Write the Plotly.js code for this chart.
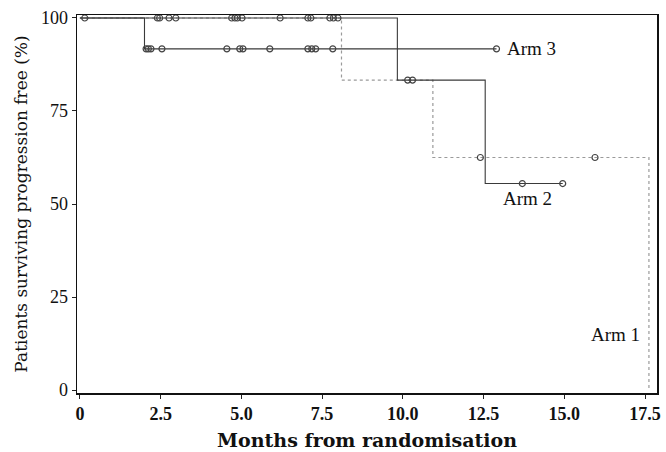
<!DOCTYPE html>
<html>
<head>
<meta charset="utf-8">
<script src="https://cdn.plot.ly/plotly-3.0.1.min.js"></script>
<style>html,body{margin:0;padding:0;background:#fff}#chart{width:666px;height:452px}</style>
</head>
<body>
<div id="chart"></div>
<script>
// Kaplan-Meier steps (months, % progression free)
var arm1Times = [0, 8.1, 10.93, 17.62];
var arm1Surv  = [100, 83.3, 62.5, 0];
var arm2Times = [0, 9.83, 12.55, 14.95];
var arm2Surv  = [100, 83.3, 55.5, 55.5];
var arm3Times = [0, 2.0, 12.9];
var arm3Surv  = [100, 91.7, 91.7];

// Censoring times
var arm1Censor = [0.15, 2.4, 2.47, 2.76, 2.97, 12.4, 15.95];
var arm2Censor = [4.7, 4.8, 4.88, 5.02, 6.2, 7.06, 7.15, 7.74, 7.85, 7.99, 10.15, 10.3, 13.7, 14.95];
var arm3Censor = [2.05, 2.12, 2.2, 2.54, 4.55, 4.95, 5.05, 5.88, 7.06, 7.18, 7.3, 7.83, 12.9];

var xTicks = [0, 2.5, 5, 7.5, 10, 12.5, 15, 17.5];
var xTickText = ['0', '2.5', '5.0', '7.5', '10.0', '12.5', '15.0', '17.5'];
var yTicks = [0, 25, 50, 75, 100];

function survAt(times, surv, t) {
  var s = surv[0];
  for (var i = 0; i < times.length; i++) { if (times[i] <= t) s = surv[i]; }
  return s;
}
function censorY(times, surv, cens) { return cens.map(function (t) { return survAt(times, surv, t); }); }

var serif = 'Liberation Serif, Times New Roman, serif';
var wide = 'DejaVu Serif, serif';

var traces = [
  {x: arm1Times, y: arm1Surv, mode: 'lines', line: {shape: 'hv', color: '#9a9a9a', width: 1.2, dash: 'dot'}, hoverinfo: 'skip'},
  {x: arm2Times, y: arm2Surv, mode: 'lines', line: {shape: 'hv', color: '#3a3a3a', width: 1.1}, hoverinfo: 'skip'},
  {x: arm3Times, y: arm3Surv, mode: 'lines', line: {shape: 'hv', color: '#3a3a3a', width: 1.1}, hoverinfo: 'skip'},
  {x: arm1Censor, y: censorY(arm1Times, arm1Surv, arm1Censor), mode: 'markers', marker: {symbol: 'circle-open', size: 6, color: '#444', line: {width: 1.2}}},
  {x: arm2Censor, y: censorY(arm2Times, arm2Surv, arm2Censor), mode: 'markers', marker: {symbol: 'circle-open', size: 6, color: '#444', line: {width: 1.2}}},
  {x: arm3Censor, y: censorY(arm3Times, arm3Surv, arm3Censor), mode: 'markers', marker: {symbol: 'circle-open', size: 6, color: '#444', line: {width: 1.2}}}
];

var layout = {
  width: 666, height: 452,
  margin: {l: 77, r: 9, t: 15, b: 59},
  paper_bgcolor: '#fff', plot_bgcolor: '#fff',
  showlegend: false,
  font: {family: serif, color: '#111'},
  xaxis: {
    range: [-0.09, 17.87], tickvals: xTicks, ticktext: xTickText,
    ticks: 'outside', ticklen: 4, tickcolor: '#222', tickwidth: 1,
    showgrid: false, zeroline: false, showline: true, linecolor: '#111', linewidth: 1.5, mirror: true,
    tickfont: {family: serif, size: 18, color: '#111', weight: 'bold'},
    title: {text: 'Months from randomisation', font: {family: wide, size: 19, color: '#111', weight: 'bold'}, standoff: 10}
  },
  yaxis: {
    range: [-0.8, 100.8], tickvals: yTicks,
    ticks: 'outside', ticklen: 4, tickcolor: '#222', tickwidth: 1,
    showgrid: false, zeroline: false, showline: true, linecolor: '#111', linewidth: 1.5, mirror: true,
    tickfont: {family: serif, size: 18, color: '#111'},
    title: {text: 'Patients surviving progression free (%)', font: {family: wide, size: 17, color: '#111'}, standoff: 9}
  },
  annotations: [
    {x: 13.98, y: 91.7, text: 'Arm 3', showarrow: false, xanchor: 'center', font: {family: serif, size: 19, color: '#111'}},
    {x: 13.85, y: 51.6, text: 'Arm 2', showarrow: false, xanchor: 'center', font: {family: serif, size: 19, color: '#111'}},
    {x: 16.6, y: 15, text: 'Arm 1', showarrow: false, xanchor: 'center', font: {family: serif, size: 19, color: '#111'}}
  ]
};

Plotly.newPlot('chart', traces, layout, {displayModeBar: false, staticPlot: true});
</script>
</body>
</html>
